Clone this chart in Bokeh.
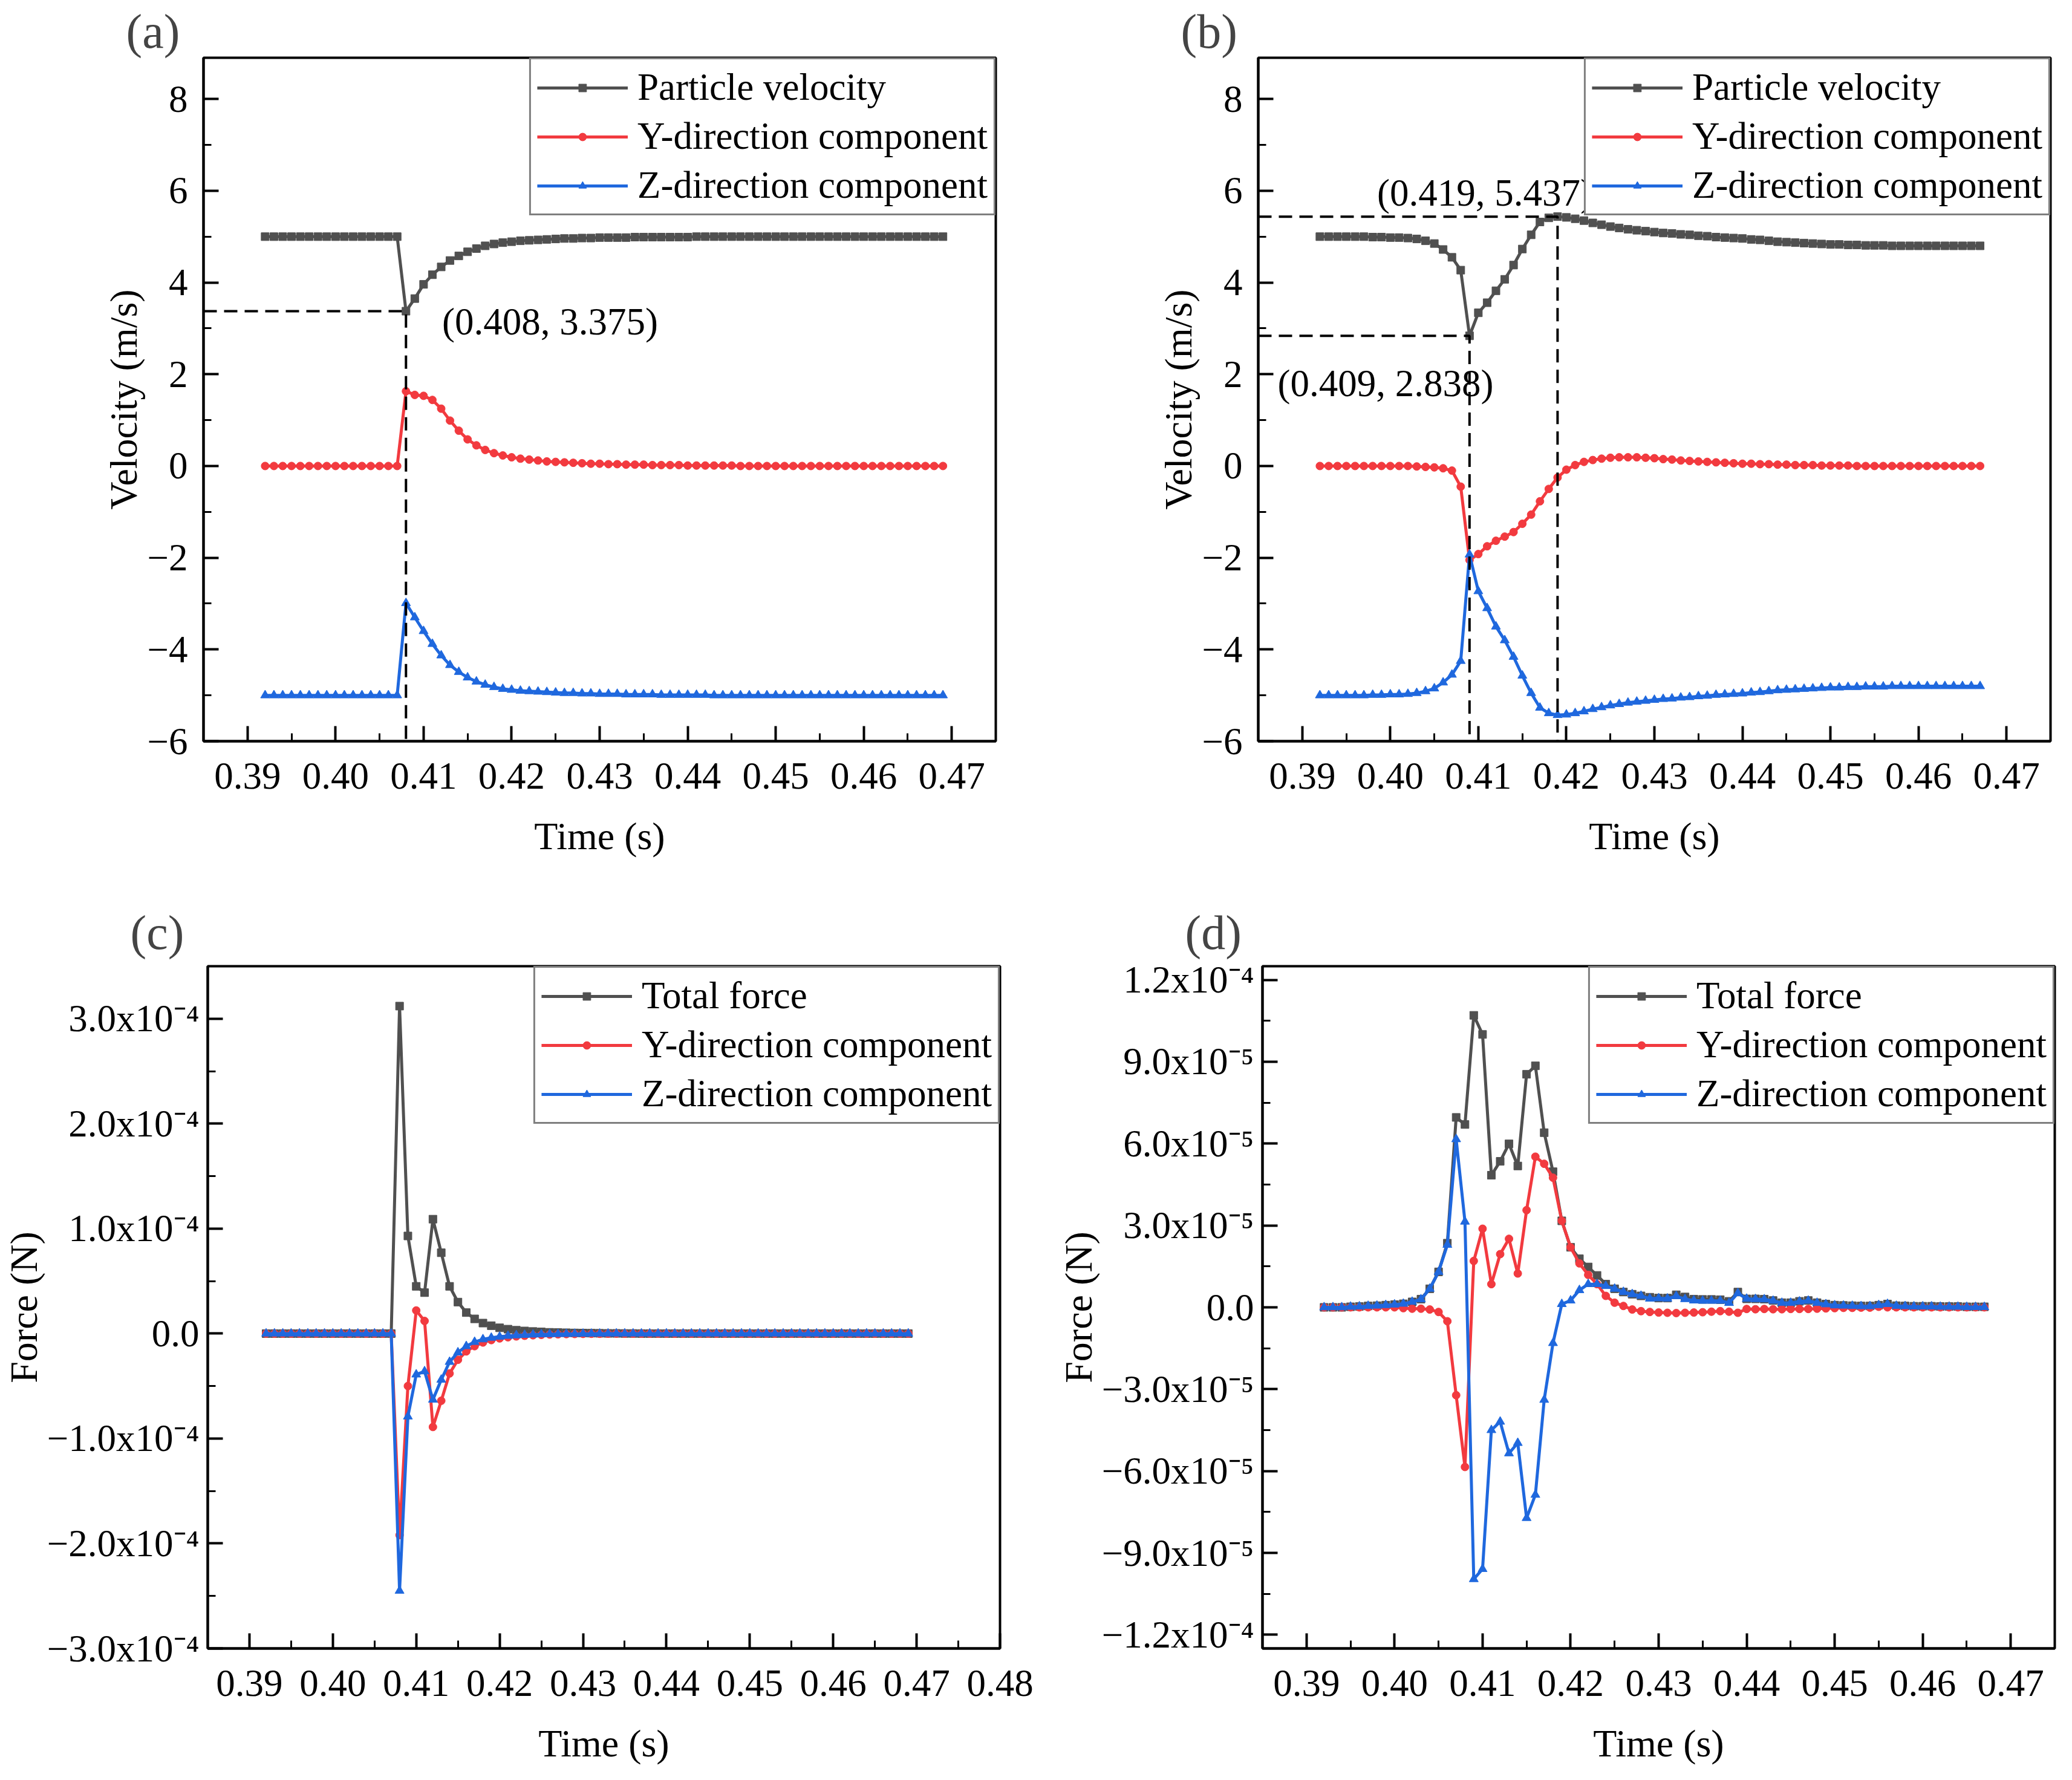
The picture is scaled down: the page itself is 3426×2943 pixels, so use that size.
from bokeh.embed import file_html
from bokeh.layouts import column, row
from bokeh.models import FixedTicker, Label, Range1d
from bokeh.plotting import figure
from bokeh.resources import INLINE

FONT = "Liberation Serif"
GREY, RED, BLUE = "#505050", "#f23a3f", "#1f68de"

# ---- data ----------------------------------------------------------------

# time axis, panels (a) and (c)
time_ac = [0.392, 0.393, 0.394, 0.395, 0.396, 0.397, 0.398, 0.399, 0.400, 0.401,
           0.402, 0.403, 0.404, 0.405, 0.406, 0.407, 0.408, 0.409, 0.410, 0.411,
           0.412, 0.413, 0.414, 0.415, 0.416, 0.417, 0.418, 0.419, 0.420, 0.421,
           0.422, 0.423, 0.424, 0.425, 0.426, 0.427, 0.428, 0.429, 0.430, 0.431,
           0.432, 0.433, 0.434, 0.435, 0.436, 0.437, 0.438, 0.439, 0.440, 0.441,
           0.442, 0.443, 0.444, 0.445, 0.446, 0.447, 0.448, 0.449, 0.450, 0.451,
           0.452, 0.453, 0.454, 0.455, 0.456, 0.457, 0.458, 0.459, 0.460, 0.461,
           0.462, 0.463, 0.464, 0.465, 0.466, 0.467, 0.468, 0.469]

# time axis, panels (b) and (d)
time_bd = [0.392, 0.393, 0.394, 0.395, 0.396, 0.397, 0.398, 0.399, 0.400, 0.401,
           0.402, 0.403, 0.404, 0.405, 0.406, 0.407, 0.408, 0.409, 0.410, 0.411,
           0.412, 0.413, 0.414, 0.415, 0.416, 0.417, 0.418, 0.419, 0.420, 0.421,
           0.422, 0.423, 0.424, 0.425, 0.426, 0.427, 0.428, 0.429, 0.430, 0.431,
           0.432, 0.433, 0.434, 0.435, 0.436, 0.437, 0.438, 0.439, 0.440, 0.441,
           0.442, 0.443, 0.444, 0.445, 0.446, 0.447, 0.448, 0.449, 0.450, 0.451,
           0.452, 0.453, 0.454, 0.455, 0.456, 0.457, 0.458, 0.459, 0.460, 0.461,
           0.462, 0.463, 0.464, 0.465, 0.466, 0.467]

# (a) velocity, m/s
vel_a = [5.00, 5.00, 5.00, 5.00, 5.00, 5.00, 5.00, 5.00, 5.00, 5.00,
         5.00, 5.00, 5.00, 5.00, 5.00, 5.00, 3.375, 3.65, 3.96, 4.17,
         4.34, 4.48, 4.58, 4.67, 4.74, 4.80, 4.84, 4.87, 4.89, 4.91,
         4.92, 4.93, 4.94, 4.95, 4.96, 4.96, 4.97, 4.97, 4.98, 4.98,
         4.98, 4.98, 4.99, 4.99, 4.99, 4.99, 4.99, 4.99, 4.99, 5.00,
         5.00, 5.00, 5.00, 5.00, 5.00, 5.00, 5.00, 5.00, 5.00, 5.00,
         5.00, 5.00, 5.00, 5.00, 5.00, 5.00, 5.00, 5.00, 5.00, 5.00,
         5.00, 5.00, 5.00, 5.00, 5.00, 5.00, 5.00, 5.00]
vy_a = [0, 0, 0, 0, 0, 0, 0, 0, 0, 0,
        0, 0, 0, 0, 0, 0, 1.63, 1.55, 1.53, 1.44,
        1.25, 0.99, 0.77, 0.58, 0.45, 0.35, 0.28, 0.23, 0.19, 0.16,
        0.14, 0.12, 0.10, 0.09, 0.08, 0.07, 0.06, 0.05, 0.05, 0.04,
        0.04, 0.03, 0.03, 0.03, 0.02, 0.02, 0.02, 0.02, 0.01, 0.01,
        0.01, 0.01, 0.01, 0.01, 0, 0, 0, 0, 0, 0,
        0, 0, 0, 0, 0, 0, 0, 0, 0, 0,
        0, 0, 0, 0, 0, 0, 0, 0]
vz_a = [-5.00, -5.00, -5.00, -5.00, -5.00, -5.00, -5.00, -5.00, -5.00, -5.00,
        -5.00, -5.00, -5.00, -5.00, -5.00, -5.00, -2.99, -3.30, -3.60, -3.88,
        -4.13, -4.34, -4.49, -4.61, -4.70, -4.77, -4.82, -4.86, -4.88, -4.90,
        -4.91, -4.92, -4.93, -4.94, -4.95, -4.95, -4.96, -4.96, -4.97, -4.97,
        -4.97, -4.98, -4.98, -4.98, -4.98, -4.99, -4.99, -4.99, -4.99, -4.99,
        -4.99, -5.00, -5.00, -5.00, -5.00, -5.00, -5.00, -5.00, -5.00, -5.00,
        -5.00, -5.00, -5.00, -5.00, -5.00, -5.00, -5.00, -5.00, -5.00, -5.00,
        -5.00, -5.00, -5.00, -5.00, -5.00, -5.00, -5.00, -5.00]

# (b) velocity, m/s
vel_b = [5.00, 5.00, 5.00, 5.00, 5.00, 5.00, 4.99, 4.99, 4.98, 4.98,
         4.97, 4.95, 4.91, 4.85, 4.72, 4.55, 4.27, 2.838, 3.34, 3.56,
         3.82, 4.07, 4.38, 4.73, 5.04, 5.32, 5.41, 5.437, 5.42, 5.39,
         5.35, 5.30, 5.26, 5.22, 5.19, 5.16, 5.14, 5.12, 5.10, 5.08,
         5.07, 5.05, 5.04, 5.02, 5.01, 4.99, 4.98, 4.97, 4.96, 4.94,
         4.93, 4.91, 4.89, 4.88, 4.87, 4.86, 4.85, 4.84, 4.83, 4.83,
         4.82, 4.82, 4.81, 4.81, 4.81, 4.80, 4.80, 4.80, 4.80, 4.80,
         4.80, 4.80, 4.80, 4.80, 4.80, 4.80]
vy_b = [0, 0, 0, 0, 0, 0, 0, 0, 0, 0,
        0, -0.01, -0.02, -0.03, -0.05, -0.10, -0.45, -2.05, -1.92, -1.75,
        -1.63, -1.54, -1.44, -1.26, -1.06, -0.77, -0.50, -0.25, -0.08, 0.02,
        0.09, 0.13, 0.16, 0.18, 0.19, 0.19, 0.19, 0.18, 0.17, 0.15,
        0.14, 0.12, 0.11, 0.10, 0.09, 0.08, 0.07, 0.06, 0.05, 0.05,
        0.04, 0.04, 0.03, 0.03, 0.02, 0.02, 0.02, 0.01, 0.01, 0.01,
        0.01, 0, 0, 0, 0, 0, 0, 0, 0, 0,
        0, 0, 0, 0, 0, 0]
vz_b = [-5.00, -5.00, -5.00, -5.00, -5.00, -5.00, -4.99, -4.99, -4.98, -4.98,
        -4.97, -4.95, -4.91, -4.85, -4.72, -4.55, -4.25, -1.93, -2.73, -3.10,
        -3.50, -3.80, -4.16, -4.57, -4.95, -5.27, -5.39, -5.43, -5.42, -5.39,
        -5.35, -5.30, -5.26, -5.22, -5.19, -5.16, -5.14, -5.12, -5.10, -5.08,
        -5.07, -5.05, -5.04, -5.02, -5.01, -4.99, -4.98, -4.97, -4.96, -4.94,
        -4.93, -4.91, -4.89, -4.88, -4.87, -4.86, -4.85, -4.84, -4.83, -4.83,
        -4.82, -4.82, -4.81, -4.81, -4.81, -4.80, -4.80, -4.80, -4.80, -4.80,
        -4.80, -4.80, -4.80, -4.80, -4.80, -4.80]

# (c) force, in units of 1e-4 N
force_c = [0, 0, 0, 0, 0, 0, 0, 0, 0, 0,
           0, 0, 0, 0, 0, 0, 3.12, 0.93, 0.45, 0.39,
           1.09, 0.77, 0.45, 0.30, 0.20, 0.14, 0.10, 0.075, 0.055, 0.042,
           0.032, 0.025, 0.020, 0.016, 0.012, 0.010, 0.008, 0.006, 0.005, 0.004,
           0.003, 0.002, 0.002, 0.001, 0.001, 0, 0, 0, 0, 0,
           0, 0, 0, 0, 0, 0, 0, 0, 0, 0,
           0, 0, 0, 0, 0, 0, 0, 0, 0, 0,
           0, 0, 0, 0, 0, 0, 0, 0]
fy_c = [0, 0, 0, 0, 0, 0, 0, 0, 0, 0,
        0, 0, 0, 0, 0, 0, -1.92, -0.50, 0.22, 0.12,
        -0.89, -0.64, -0.38, -0.25, -0.17, -0.12, -0.085, -0.062, -0.046, -0.035,
        -0.027, -0.021, -0.016, -0.012, -0.009, -0.007, -0.005, -0.004, -0.003, -0.002,
        -0.002, -0.001, 0, 0, 0, 0, 0, 0, 0, 0,
        0, 0, 0, 0, 0, 0, 0, 0, 0, 0,
        0, 0, 0, 0, 0, 0, 0, 0, 0, 0,
        0, 0, 0, 0, 0, 0, 0, 0]
fz_c = [0, 0, 0, 0, 0, 0, 0, 0, 0, 0,
        0, 0, 0, 0, 0, 0, -2.45, -0.79, -0.39, -0.36,
        -0.63, -0.44, -0.27, -0.18, -0.12, -0.080, -0.055, -0.040, -0.030, -0.022,
        -0.017, -0.013, -0.010, -0.008, -0.006, -0.005, -0.004, -0.003, -0.002, -0.002,
        -0.001, 0, 0, 0, 0, 0, 0, 0, 0, 0,
        0, 0, 0, 0, 0, 0, 0, 0, 0, 0,
        0, 0, 0, 0, 0, 0, 0, 0, 0, 0,
        0, 0, 0, 0, 0, 0, 0, 0]

# (d) force, in units of 1e-5 N
force_d = [0, 0, 0, 0.02, 0.03, 0.05, 0.06, 0.08, 0.10, 0.13,
           0.20, 0.30, 0.68, 1.30, 2.35, 6.96, 6.70, 10.70, 10.00, 4.84,
           5.35, 5.99, 5.18, 8.54, 8.85, 6.40, 4.97, 3.17, 2.20, 1.78,
           1.48, 1.17, 0.85, 0.68, 0.56, 0.48, 0.42, 0.37, 0.34, 0.34,
           0.46, 0.38, 0.30, 0.29, 0.29, 0.28, 0.22, 0.56, 0.31, 0.31,
           0.30, 0.25, 0.17, 0.17, 0.22, 0.25, 0.17, 0.12, 0.08, 0.07,
           0.06, 0.05, 0.05, 0.08, 0.12, 0.06, 0.05, 0.04, 0.04, 0.04,
           0.03, 0.03, 0.03, 0.02, 0.02, 0.02]
fy_d = [0, 0, 0, 0, 0, 0, 0, 0, 0, -0.03,
        -0.05, -0.05, -0.08, -0.17, -0.51, -3.22, -5.85, 1.70, 2.88, 0.85,
        1.95, 2.51, 1.24, 3.56, 5.52, 5.26, 4.75, 3.17, 2.20, 1.61,
        1.19, 0.85, 0.42, 0.17, 0.05, -0.08, -0.14, -0.17, -0.19, -0.20,
        -0.21, -0.20, -0.19, -0.18, -0.16, -0.14, -0.16, -0.20, -0.06, -0.07,
        -0.06, -0.07, -0.07, -0.06, -0.06, -0.06, -0.05, -0.04, -0.03, -0.02,
        -0.02, -0.01, -0.01, 0.02, 0, 0, 0, 0, 0, 0,
        0, 0, 0, 0, 0, 0]
fz_d = [0, 0, 0, 0.02, 0.03, 0.05, 0.06, 0.08, 0.10, 0.13,
        0.20, 0.29, 0.68, 1.30, 2.29, 6.16, 3.14, -9.96, -9.59, -4.50,
        -4.19, -5.35, -4.97, -7.72, -6.87, -3.39, -1.31, 0.12, 0.25, 0.63,
        0.85, 0.85, 0.78, 0.68, 0.56, 0.48, 0.42, 0.32, 0.33, 0.32,
        0.41, 0.30, 0.25, 0.24, 0.24, 0.24, 0.16, 0.52, 0.31, 0.30,
        0.29, 0.24, 0.16, 0.16, 0.21, 0.24, 0.16, 0.11, 0.07, 0.06,
        0.05, 0.04, 0.04, 0.08, 0.12, 0.05, 0.04, 0.03, 0.03, 0.03,
        0.02, 0.02, 0.02, 0.01, 0.01, 0.01]

# marked points (time, velocity)
marks_a = [(0.408, 3.375)]
marks_b = [(0.409, 2.838), (0.419, 5.437)]

legend_vel = ["Particle velocity", "Y-direction component", "Z-direction component"]
legend_force = ["Total force", "Y-direction component", "Z-direction component"]

# ticks and tick labels
x_ticks = [0.39, 0.40, 0.41, 0.42, 0.43, 0.44, 0.45, 0.46, 0.47]
x_labels = ["0.39", "0.40", "0.41", "0.42", "0.43", "0.44", "0.45", "0.46", "0.47"]
x_ticks_c = [0.39, 0.40, 0.41, 0.42, 0.43, 0.44, 0.45, 0.46, 0.47, 0.48]
x_labels_c = ["0.39", "0.40", "0.41", "0.42", "0.43", "0.44", "0.45", "0.46", "0.47", "0.48"]
x_minor = [0.385, 0.395, 0.405, 0.415, 0.425, 0.435, 0.445, 0.455, 0.465, 0.475]

v_ticks = [-6, -4, -2, 0, 2, 4, 6, 8]
v_labels = ["\u22126", "\u22124", "\u22122", "0", "2", "4", "6", "8"]
v_minor = [-5, -3, -1, 1, 3, 5, 7]

fc_ticks = [-3e-4, -2e-4, -1e-4, 0.0, 1e-4, 2e-4, 3e-4]
fc_labels = ["\u22123.0x10\u207b\u2074", "\u22122.0x10\u207b\u2074", "\u22121.0x10\u207b\u2074", "0.0",
             "1.0x10\u207b\u2074", "2.0x10\u207b\u2074", "3.0x10\u207b\u2074"]
fc_minor = [-2.5e-4, -1.5e-4, -0.5e-4, 0.5e-4, 1.5e-4, 2.5e-4]

fd_ticks = [-1.2e-4, -9e-5, -6e-5, -3e-5, 0.0, 3e-5, 6e-5, 9e-5, 1.2e-4]
fd_labels = ["\u22121.2x10\u207b\u2074", "\u22129.0x10\u207b\u2075", "\u22126.0x10\u207b\u2075",
             "\u22123.0x10\u207b\u2075", "0.0", "3.0x10\u207b\u2075", "6.0x10\u207b\u2075",
             "9.0x10\u207b\u2075", "1.2x10\u207b\u2074"]
fd_minor = [-1.05e-4, -7.5e-5, -4.5e-5, -1.5e-5, 1.5e-5, 4.5e-5, 7.5e-5, 1.05e-4]


def make_panel(tag, t, series, names, x_rng, y_rng, ticks, y_label, borders, fh, title_gap, y_standoff):
    left, right, top, bottom = borders
    p = figure(title=tag, x_range=Range1d(*x_rng), y_range=Range1d(*y_rng),
               frame_width=1310, frame_height=fh, output_backend="svg", toolbar_location=None,
               min_border_left=left, min_border_right=right, min_border_top=top, min_border_bottom=bottom,
               background_fill_color="white", border_fill_color="white")
    p.xgrid.visible = False
    p.ygrid.visible = False
    p.outline_line_color = "black"
    p.outline_line_width = 4
    p.outline_line_alpha = 1

    p.title.text_font = FONT
    p.title.text_font_size = "80px"
    p.title.text_font_style = "normal"
    p.title.align = "left"
    p.title.offset = -128
    p.title.standoff = title_gap

    xt, xl, yt, yl, ym = ticks
    p.xaxis.ticker = FixedTicker(ticks=xt, minor_ticks=x_minor)
    p.xaxis.major_label_overrides = dict(zip(xt, xl))
    p.yaxis.ticker = FixedTicker(ticks=yt, minor_ticks=ym)
    p.yaxis.major_label_overrides = dict(zip(yt, yl))
    p.xaxis.axis_label = "Time (s)"
    p.yaxis.axis_label = y_label
    for ax in (p.xaxis, p.yaxis):
        ax.axis_line_width = 4
        ax.major_tick_in = 25
        ax.major_tick_out = 0
        ax.minor_tick_in = 13
        ax.minor_tick_out = 0
        ax.major_tick_line_width = 4
        ax.minor_tick_line_width = 3
        ax.major_label_text_font = FONT
        ax.major_label_text_font_size = "63px"
        ax.major_label_text_color = "black"
        ax.axis_label_text_font = FONT
        ax.axis_label_text_font_size = "64px"
        ax.axis_label_text_font_style = "normal"
        ax.axis_label_text_color = "black"
    p.xaxis.major_label_standoff = 36
    p.xaxis.axis_label_standoff = 40
    p.yaxis.major_label_standoff = y_standoff
    p.yaxis.axis_label_standoff = 0

    colors = [GREY, RED, BLUE]
    markers = ["square", "circle", "triangle"]
    sizes = [13, 13, 15]
    for vals, name, c, m, s in zip(series, names, colors, markers, sizes):
        p.line(t, vals, line_color=c, line_width=5, legend_label=name)
        p.scatter(t, vals, marker=m, size=s, fill_color=c, line_color=c, legend_label=name)

    lg = p.legend[0]
    lg.location = "top_right"
    lg.margin = 0
    lg.padding = 10
    lg.spacing = 8
    lg.glyph_width = 150
    lg.glyph_height = 32
    lg.label_height = 72
    lg.label_standoff = 16
    lg.label_text_font = FONT
    lg.label_text_font_size = "63px"
    lg.label_text_color = "black"
    lg.border_line_color = "black"
    lg.border_line_width = 3
    lg.background_fill_color = "white"
    lg.background_fill_alpha = 1
    return p


def add_marks(p, marks, x0, y0):
    for (mx, my) in marks:
        p.line([x0, mx, mx], [my, my, y0], line_color="black", line_width=4, line_dash="22 12")


def add_note(p, x, y, text):
    p.add_layout(Label(x=x, y=y, text=text, text_font=FONT, text_font_size="63px",
                       text_baseline="middle", text_align="left", text_color="black"))


vel_ticks = (x_ticks, x_labels, v_ticks, v_labels, v_minor)

pa = make_panel("(a)", time_ac, [vel_a, vy_a, vz_a], legend_vel, (0.385, 0.475), (-6, 8.9),
                vel_ticks, "Velocity (m/s)", (336, 60, 95, 230), 1130, 0, 26)
add_marks(pa, marks_a, 0.385, -6)
add_note(pa, 0.4121, 3.14, "(0.408, 3.375)")

pb = make_panel("(b)", time_bd, [vel_b, vy_b, vz_b], legend_vel, (0.385, 0.475), (-6, 8.9),
                vel_ticks, "Velocity (m/s)", (374, 14, 95, 230), 1130, 0, 26)
add_marks(pb, marks_b, 0.385, -6)
add_note(pb, 0.3985, 5.95, "(0.419, 5.437)")
add_note(pb, 0.3872, 1.80, "(0.409, 2.838)")

pc = make_panel("(c)", time_ac, [[v * 1e-4 for v in force_c], [v * 1e-4 for v in fy_c],
                                 [v * 1e-4 for v in fz_c]],
                legend_force, (0.385, 0.48), (-3e-4, 3.5e-4),
                (x_ticks_c, x_labels_c, fc_ticks, fc_labels, fc_minor), "Force (N)",
                (336, 60, 142, 200), 1128, 24, 14)

pd = make_panel("(d)", time_bd, [[v * 1e-5 for v in force_d], [v * 1e-5 for v in fy_d],
                                 [v * 1e-5 for v in fz_d]],
                legend_force, (0.385, 0.475), (-1.25e-4, 1.25e-4),
                (x_ticks, x_labels, fd_ticks, fd_labels, fd_minor), "Force (N)",
                (374, 14, 142, 200), 1128, 24, 14)

layout = column(row(pa, pb), row(pc, pd))

open("out.html", "w").write(file_html(layout, INLINE))
